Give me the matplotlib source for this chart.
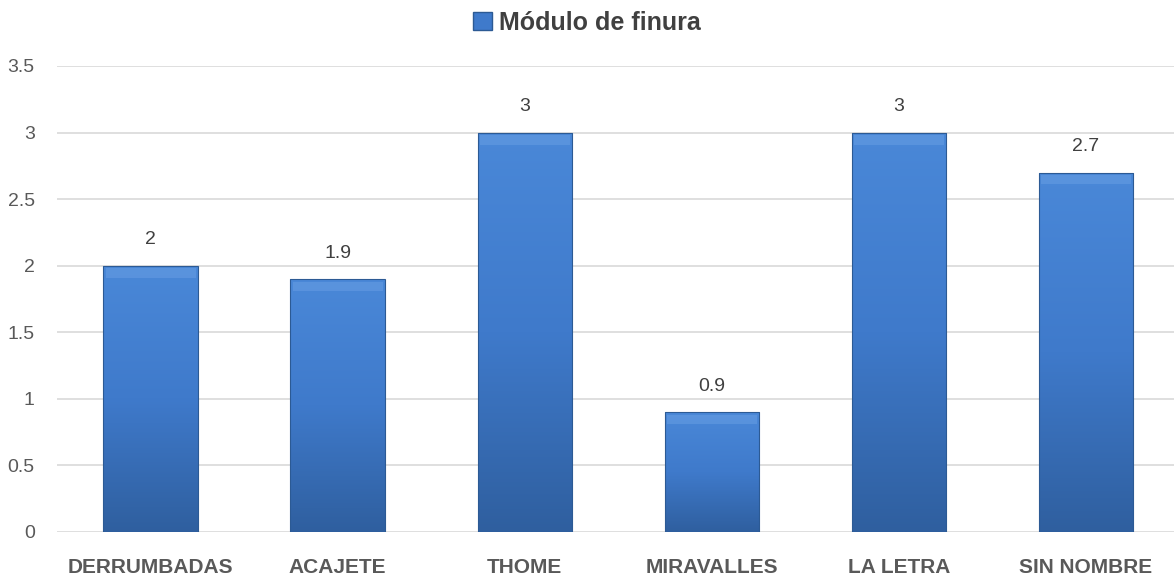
import numpy as np
import matplotlib
matplotlib.use("Agg")
from matplotlib import pyplot as plt
from matplotlib.colors import LinearSegmentedColormap
from matplotlib.patches import Rectangle

categories = ["DERRUMBADAS", "ACAJETE", "THOME", "MIRAVALLES", "LA LETRA", "SIN NOMBRE"]
values = [2, 1.9, 3, 0.9, 3, 2.7]
value_labels = ["2", "1.9", "3", "0.9", "3", "2.7"]
yticks = [0, 0.5, 1, 1.5, 2, 2.5, 3, 3.5]
ytick_labels = ["0", "0.5", "1", "1.5", "2", "2.5", "3", "3.5"]
series_name = "Módulo de finura"

plt.rcParams["font.family"] = ["Liberation Sans Narrow", "Liberation Sans", "DejaVu Sans"]

fig = plt.figure(figsize=(11.74, 5.83), dpi=100)
ax = fig.add_axes([57 / 1174, 1 - 532 / 583, 1 - 57 / 1174, (532 - 66) / 583])

x = np.arange(len(categories))
width = 0.505
bars = ax.bar(x, values, width=width, color="none", edgecolor="#2c5a94", linewidth=0.8, zorder=3)

# vertical gradient inside each bar
cmap = LinearSegmentedColormap.from_list("bar", ["#4a88d8", "#3f7acb", "#2f5f9f"])
grad = np.linspace(0, 1, 256).reshape(-1, 1)
for b in bars:
    x0, y0 = b.get_x(), b.get_y()
    w, h = b.get_width(), b.get_height()
    im = ax.imshow(grad, cmap=cmap, aspect="auto", extent=(x0, x0 + w, y0, y0 + h),
                   origin="upper", zorder=2)
    im.set_clip_path(b)
    # bevel highlight at top
    ax.add_patch(Rectangle((x0 + 0.012, y0 + h - 0.09), w - 0.024, 0.07,
                           facecolor="#6da2e6", edgecolor="none", alpha=0.45, zorder=2.5))

for xi, v, lab in zip(x, values, value_labels):
    ax.text(xi, v + 0.13, lab, ha="center", va="bottom", fontsize=14, color="#404040")

ax.set_xlim(-0.5, 5.47)
ax.set_ylim(0, 3.5)
ax.set_yticks(yticks)
ax.set_yticklabels(ytick_labels)
ax.set_xticks(x)
ax.set_xticklabels(categories, fontsize=15, fontweight="bold", color="#595959")
ax.tick_params(axis="y", length=0, labelsize=14, labelcolor="#595959", pad=16)
ax.tick_params(axis="x", length=0, pad=19)
ax.grid(axis="y", color="#d9d9d9", linewidth=1.2, zorder=0)
ax.set_axisbelow(True)
for s in ax.spines.values():
    s.set_visible(False)

# legend at top
handle = Rectangle((0, 0), 1, 1, facecolor="#3f7acb", edgecolor="#2c5a94")
leg = fig.legend([handle], [series_name], loc="upper center", bbox_to_anchor=(0.5, 1.02),
                 frameon=False, handlelength=0.75, handleheight=0.75, handletextpad=0.3,
                 prop={"size": 18, "weight": "bold"})
for t in leg.get_texts():
    t.set_color("#404040")

fig.savefig("out.png", dpi=100)
